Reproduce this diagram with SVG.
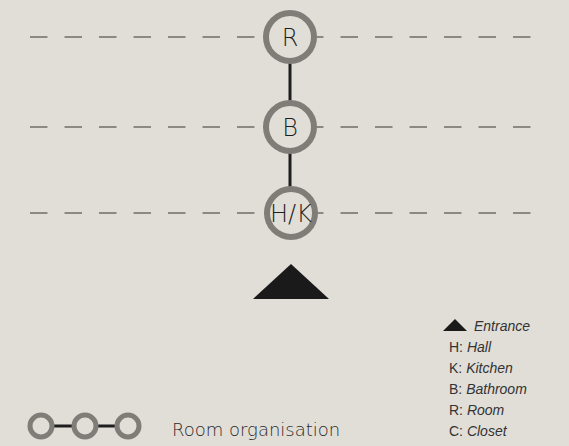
<svg xmlns="http://www.w3.org/2000/svg" width="569" height="446" viewBox="0 0 569 446">
<style>
.dash{stroke:#8c8985;stroke-width:2;stroke-dasharray:17.5 17}
.ring{fill:#e1ded8;stroke:#807d79;stroke-width:6}
.sring{fill:#e1ded8;stroke:#807d79;stroke-width:5}
.conn{stroke:#1e1e1e;stroke-width:3}
.lbl{font-family:"DejaVu Sans","Liberation Sans",sans-serif;font-weight:200;font-size:24px;fill:#1e1e1e;text-anchor:middle}
.leg{font-family:"Liberation Sans",Arial,sans-serif;font-size:14px;fill:#333333}
.it{font-style:italic}
</style>
<rect width="569" height="446" fill="#e1ded8"/>
<g id="levels">
<line class="dash" x1="30" y1="37" x2="532" y2="37"/>
<line class="dash" x1="30" y1="127" x2="532" y2="127"/>
<line class="dash" x1="30" y1="213" x2="532" y2="213"/>
</g>
<g id="connectors">
<line class="conn" x1="290" y1="62" x2="290" y2="102"/>
<line class="conn" x1="290" y1="152" x2="290" y2="188"/>
</g>
<g id="node-R">
<circle class="ring" cx="290" cy="37" r="24"/>
<text class="lbl" x="290" y="46">R</text>
</g>
<g id="node-B">
<circle class="ring" cx="290" cy="127" r="24"/>
<text class="lbl" x="290" y="136">B</text>
</g>
<g id="node-HK">
<circle class="ring" cx="291" cy="213" r="24"/>
<text class="lbl" x="291" y="222">H/K</text>
</g>
<g id="entrance">
<polygon points="291,264 253,299 329,299" fill="#1a1a1a"/>
</g>
<g id="legend">
<polygon points="455,319 443,331 467,331" fill="#1a1a1a"/>
<text class="leg it" x="474" y="331">Entrance</text>
<text class="leg" x="449" y="352">H: <tspan class="it">Hall</tspan></text>
<text class="leg" x="449" y="373">K: <tspan class="it">Kitchen</tspan></text>
<text class="leg" x="449" y="394">B: <tspan class="it">Bathroom</tspan></text>
<text class="leg" x="449" y="415">R: <tspan class="it">Room</tspan></text>
<text class="leg" x="449" y="436">C: <tspan class="it">Closet</tspan></text>
</g>
<g id="legend-org">
<line class="conn" x1="54" y1="426" x2="72" y2="426"/>
<line class="conn" x1="98" y1="426" x2="115" y2="426"/>
<circle class="sring" cx="41" cy="426" r="11"/>
<circle class="sring" cx="85" cy="426" r="11"/>
<circle class="sring" cx="128" cy="426" r="11"/>
<text x="172" y="436" font-family="DejaVu Sans, Liberation Sans, sans-serif" font-weight="200" font-size="18" fill="#2a2a2a">Room organisation</text>
</g>
</svg>
